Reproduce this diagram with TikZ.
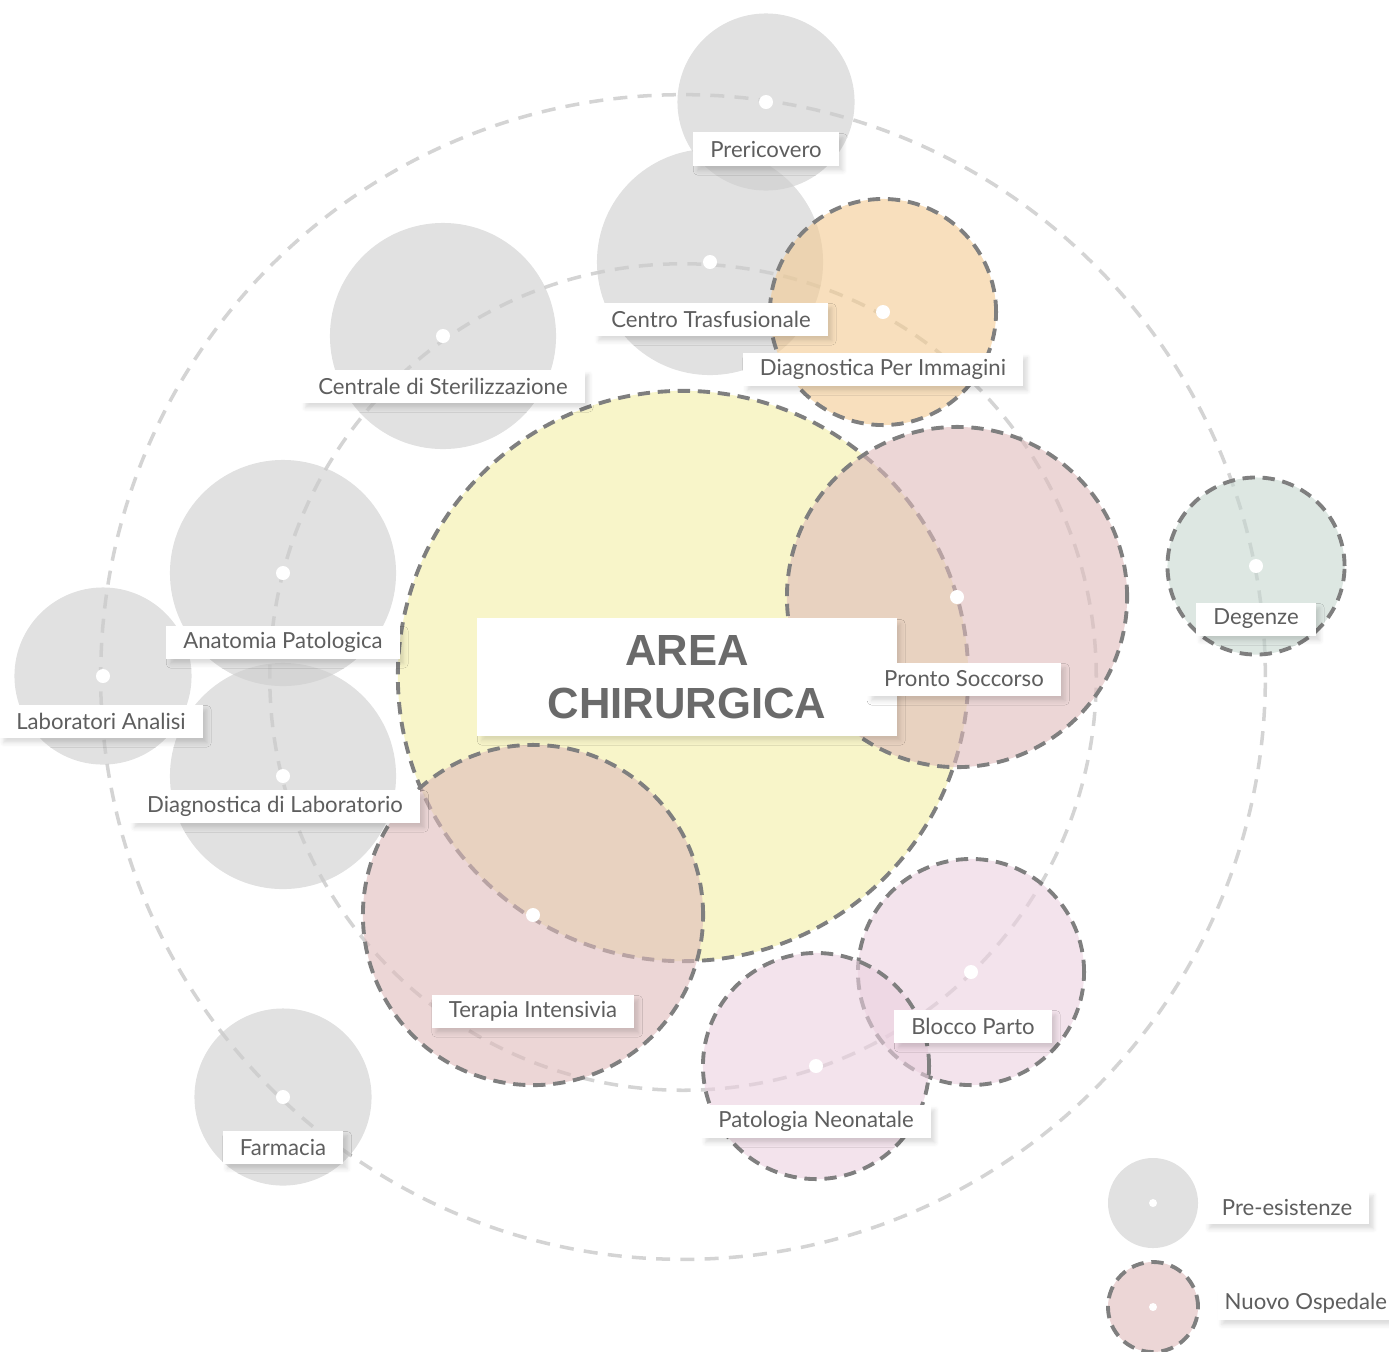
\documentclass[tikz,border=0pt]{standalone}
\usepackage{fontspec}
\setmainfont{Lato}
\newfontfamily\headfont{Liberation Sans}
\usepackage{xcolor}
\usepackage{tikz}
\usetikzlibrary{shadows.blur}
\definecolor{existgray}{HTML}{CDCDCD}
\definecolor{surgyellow}{HTML}{F3EEA5}
\definecolor{carepink}{HTML}{DFBBBB}
\definecolor{imagingorange}{HTML}{F3CA91}
\definecolor{wardgreen}{HTML}{C6D7CF}
\definecolor{birthpink}{HTML}{EBD0DF}
\definecolor{rimgray}{HTML}{7F7F7F}
\definecolor{guidegray}{HTML}{D4D4D4}
\definecolor{ink}{HTML}{5E5E5E}
\definecolor{headink}{HTML}{6A6A6A}
\tikzset{
  existing/.style={
    circle,
    inner sep=0pt,
    draw=none,
    fill=existgray,
    fill opacity=0.6
  },
  planned/.style={
    circle,
    inner sep=0pt,
    draw=rimgray,
    line width=1.1pt,
    dash pattern=on 3.5pt off 2.2pt,
    fill opacity=0.6
  },
  hub/.style={
    circle,
    fill=white,
    inner sep=0pt,
    minimum size=0.14cm
  },
  guide/.style={
    draw=guidegray,
    line width=1pt,
    dash pattern=on 4pt off 2.9pt
  },
  tag/.style={
    fill=white,
    text=ink,
    inner xsep=0.17cm,
    inner ysep=0pt,
    minimum height=0.33cm,
    font=\fontsize{6.3}{7.5}\selectfont,
    blur shadow={shadow xshift=1.2pt, shadow yshift=-1.5pt,
      shadow blur radius=1.2pt, shadow opacity=14}
  },
  title/.style={
    fill=white,
    text=headink,
    align=center,
    minimum width=4.19cm,
    minimum height=1.17cm,
    font=\headfont\bfseries\fontsize{12.4}{15}\selectfont,
    blur shadow={shadow xshift=1.2pt, shadow yshift=-1.5pt,
      shadow blur radius=1.2pt, shadow opacity=12}
  }
}

\begin{document}
\begin{tikzpicture}[x=0.01cm, y=-0.01cm]
\useasboundingbox (0,0) rectangle (1389,1351);

% Dashed rings behind the departments.
\coordinate (hub) at (683,677);
\draw[guide] (hub) circle[radius=5.82cm];
\draw[guide] (hub) circle[radius=4.13cm];

% Existing buildings.
\node[existing, minimum size=1.77cm] (prericovero) at (766,102) {};
\node[existing, minimum size=2.26cm] (trasfusionale) at (710,262) {};
\node[existing, minimum size=2.26cm] (sterilizzazione) at (443,336) {};
\node[existing, minimum size=2.26cm] (anatomia) at (283,573) {};
\node[existing, minimum size=1.77cm] (laboratori) at (103,676) {};
\node[existing, minimum size=2.26cm] (diaglab) at (283,776) {};
\node[existing, minimum size=1.77cm] (farmacia) at (283,1097) {};

% New hospital.
\node[planned, fill=imagingorange, minimum size=2.26cm] (immagini) at (883,312) {};
\node[planned, fill=surgyellow, minimum size=5.70cm] (area) at (683,676) {};
\node[planned, fill=carepink, minimum size=3.40cm] (pronto) at (957,597) {};
\node[planned, fill=carepink, minimum size=3.40cm] (terapia) at (533,915) {};
\node[planned, fill=wardgreen, minimum size=1.77cm] (degenze) at (1256,566) {};
\node[planned, fill=birthpink, minimum size=2.26cm] (parto) at (971,972) {};
\node[planned, fill=birthpink, minimum size=2.26cm] (neonatale) at (816,1066) {};

% Legend.
\node[existing, minimum size=0.90cm] (keyold) at (1153,1203) {};
\node[planned, fill=carepink, minimum size=0.90cm] (keynew) at (1153,1307) {};

% Centre dots.
\foreach \n in {prericovero, trasfusionale, sterilizzazione, anatomia,
  laboratori, diaglab, farmacia, immagini, pronto, terapia, degenze,
  parto, neonatale}
  \node[hub] (\n-dot) at (\n) {};
\node[hub, minimum size=0.08cm] (keyold-dot) at (keyold) {};
\node[hub, minimum size=0.08cm] (keynew-dot) at (keynew) {};

% Labels.
\node[title] (area-label) at (687,677) {AREA\\CHIRURGICA};
\node[tag] (prericovero-label) at (766,149) {Prericovero};
\node[tag] (trasfusionale-label) at (711,319) {Centro Trasfusionale};
\node[tag] (immagini-label) at (883,369) {Diagnostica Per Immagini};
\node[tag] (sterilizzazione-label) at (443,386) {Centrale di Sterilizzazione};
\node[tag] (anatomia-label) at (283,642) {Anatomia Patologica};
\node[tag] (laboratori-label) at (101,721) {Laboratori Analisi};
\node[tag] (diaglab-label) at (275,806) {Diagnostica di Laboratorio};
\node[tag] (pronto-label) at (964,679) {Pronto Soccorso};
\node[tag] (degenze-label) at (1256,619) {Degenze};
\node[tag] (terapia-label) at (533,1011) {Terapia Intensivia};
\node[tag] (parto-label) at (973,1026) {Blocco Parto};
\node[tag] (neonatale-label) at (816,1121) {Patologia Neonatale};
\node[tag] (farmacia-label) at (283,1147) {Farmacia};
\node[tag] (keyold-label) at (1287,1207) {Pre-esistenze};
\node[tag, anchor=west, inner xsep=0.07cm] (keynew-label) at (1217,1303) {Nuovo Ospedale};

\end{tikzpicture}
\end{document}
